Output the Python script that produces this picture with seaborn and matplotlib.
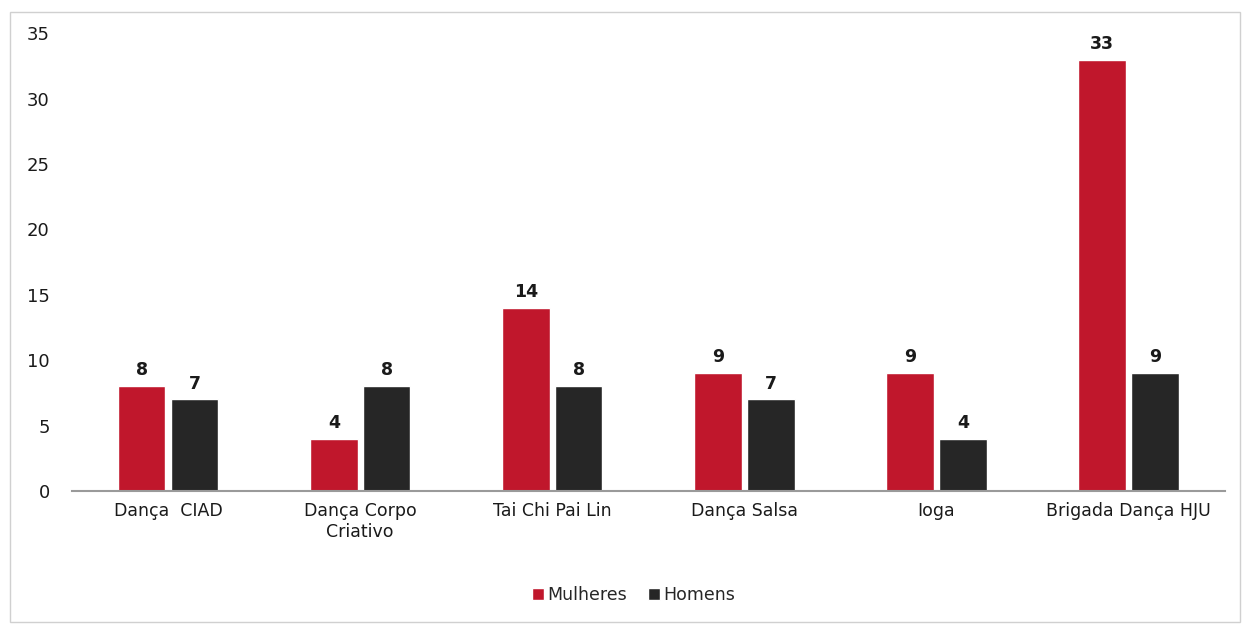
import pandas as pd
import matplotlib
matplotlib.use("Agg")
import matplotlib.pyplot as plt
import seaborn as sns
from matplotlib.patches import Rectangle

categorias = ["Dança  CIAD", "Dança Corpo\nCriativo", "Tai Chi Pai Lin", "Dança Salsa", "Ioga", "Brigada Dança HJU"]
mulheres = [8, 4, 14, 9, 9, 33]
homens = [7, 8, 8, 7, 4, 9]
grupos = ["Mulheres", "Homens"]
cores = {"Mulheres": "#C0172C", "Homens": "#262626"}

df = pd.DataFrame({
    "categoria": categorias * 2,
    "grupo": [grupos[0]] * len(categorias) + [grupos[1]] * len(categorias),
    "valor": mulheres + homens,
})

sns.set_theme(style="white")
plt.rcParams["font.family"] = ["DejaVu Sans"]

fig = plt.figure(figsize=(12.42, 6.26), dpi=100)
ax = fig.add_axes([0.058, 0.2157, 0.928, 0.731])

sns.barplot(data=df, x="categoria", y="valor", hue="grupo", palette=cores,
            width=0.55, gap=0.1, ax=ax, saturation=1)

for cont in ax.containers:
    ax.bar_label(cont, fmt="%d", padding=5, fontsize=12.5, fontweight="bold", color="#1a1a1a")

ax.set_xlim(-0.5, 5.5)
ax.set_ylim(0, 35)
ax.set_yticks(range(0, 36, 5))
ax.set_xlabel("")
ax.set_ylabel("")
ax.tick_params(axis="y", length=0, pad=16, labelsize=13, labelcolor="#1a1a1a")
ax.tick_params(axis="x", length=0, pad=8, labelsize=12.5, labelcolor="#1a1a1a")
for s in ["top", "right", "left"]:
    ax.spines[s].set_visible(False)
ax.spines["bottom"].set_color("#9a9a9a")
ax.spines["bottom"].set_linewidth(1.5)

ax.legend(loc="center", bbox_to_anchor=(0.51, 0.05), bbox_transform=fig.transFigure,
          ncol=2, frameon=False, fontsize=12.5, handlelength=0.7, handleheight=0.7,
          handletextpad=0.2, columnspacing=1.2)

fig.patches.append(Rectangle((0.008, 0.006), 0.99, 0.975, transform=fig.transFigure,
                             fill=False, edgecolor="#d0d0d0", linewidth=1.0))

fig.savefig("out.png", dpi=100)
